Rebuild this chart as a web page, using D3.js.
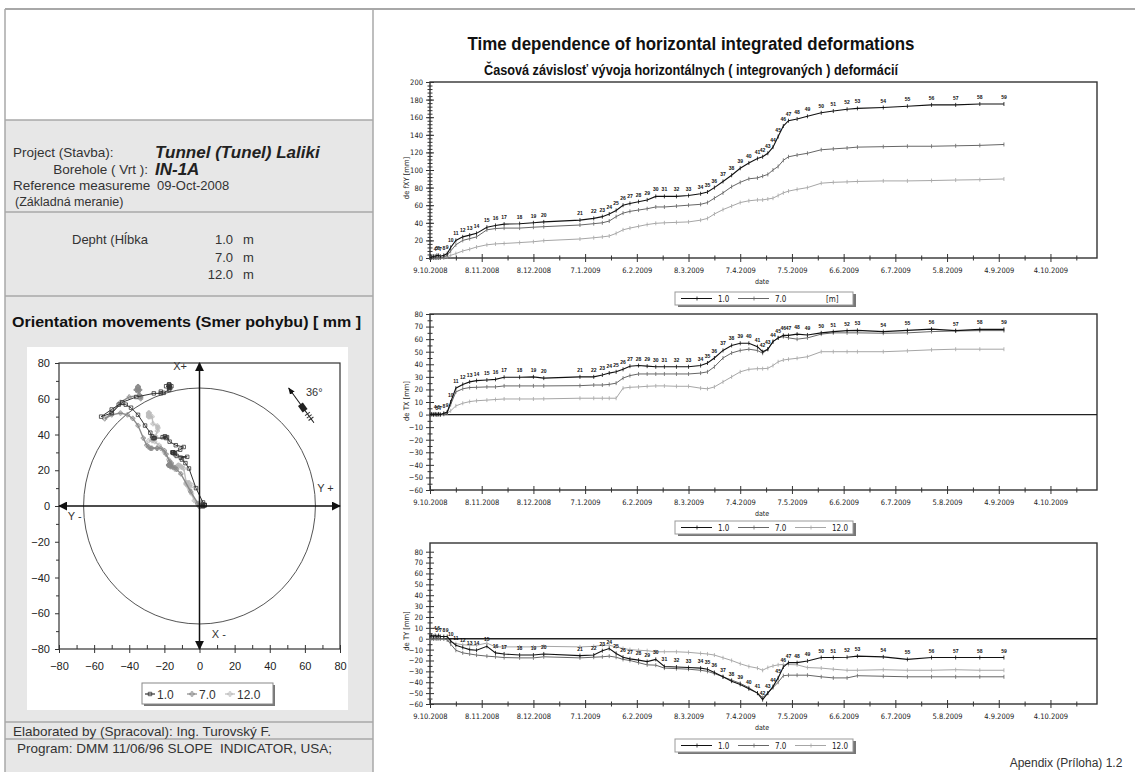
<!DOCTYPE html>
<html>
<head>
<meta charset="utf-8">
<script src="https://cdnjs.cloudflare.com/ajax/libs/d3/7.8.5/d3.min.js"></script>
<style>
body { margin: 0; background: #fff; }
svg text { font-family: "Liberation Sans", Arial, sans-serif; white-space: pre; }
.narrow { font-family: "Liberation Sans Narrow", "DejaVu Sans Condensed", "Liberation Sans", sans-serif; }
</style>
</head>
<body>
<script>
////////////////////////////////////////////
// inclinometer IN-1A, tunnel Laliki
// data
////////////////////////////////////////////
var refDate = new Date(2008, 9, 9);   // reference measurement 09-Oct-2008
var depths = ["1.0", "7.0", "12.0"];

// days after the reference measurement
var measDays = [0,1,2,3,4,5,6,8,10,12, 15,19,23,27,33,38,43,52,60,66,
	87,95,100,104,108,112,116,121,126,131, 136,143,150,157,161,165,170,175,180,185,
	190,193,196,199,202,205,208,213,219,227, 234,242,248,263,277,291,305,319,333];
var measNo = d3.range(1, measDays.length + 1);

// integrated deformation de fXY [mm]
var deXY_1 = [0,1,2,2,3,3,2,3,5,12, 20,24,26,28,35,37,38.5,39,40,41,
	43,45,47,50,54,60,62,64,66,70, 70,70,71,73,75,80,87,94,102,108,
	113,115,119,126,138,150,156,158,161,165, 167,169,170,171,172.5,174,174,175,175];
var deXY_7 = [0,0,0,0,0,0,0,1,3,8, 15,20,22,24,32,33.5,34,34,35,35.6,
	37.5,39,40,42,47,51,53,54.5,56,58, 58,59,60,61,63,68,74,81,86,90,
	91,93,95,100,104,111,115,117,119,123, 124,125,126,126.5,127,127,127.5,128,129];
var deXY_12 = [0,0,0,0,0,0,0,0,1.5,3, 5,8,10,12.5,15,16,16.5,17.5,18.5,19.7,
	21.6,23,24,25,28,32,34,36,38,39.4, 40,40.5,41,43,45,50,55,59,63,65,
	66,66,67,68,71,74,76,78,80,85, 86,86.5,87,87.6,87.6,88,88.6,89,89.8];

// deformation in X direction de TX [mm]
var deX_1 = [0,0.5,0,0.5,0,0.5,0,1,2,10, 21,24,26,27,27.5,28,29.7,29.7,30,29,
	30,30,31.5,33,34,36,38.5,39,38.5,38, 38,38,38,39,41,45,51,55,56.7,56.7,
	54,50,52,58,61,63,63,64,63.3,65, 66,66.8,67,66,67,68,66.8,67.8,67.8];
var deX_7 = [0,0,0,0,0,0,0,0.5,1.5,8, 18,20.5,21.5,21.7,22,22,22.8,22.8,22.8,22.8,
	23,23.5,23.5,24,25,29,31,32.3,32.3,32.3, 32.3,32.3,32.3,33,34,38,45,49,51,52,
	51,48.8,52,58,61,62,61,60,61,64, 65,65,65,64.7,65,66,66.5,66.8,66.8];
var deX_12 = [0,0,0,0,0,0,0,0,1,3, 6.9,9,10.3,11,11.5,12,12.4,12.4,12.4,12.5,
	13,13,13,13,13,21,21.7,22,22.5,22.8, 22.8,22.5,22.5,21,20.5,22,26,30,34,36,
	36.5,36.5,36.8,39,42,43.4,44,44.8,46,50, 50,50,50,50,50.7,51.5,52,52,52];

// deformation in Y direction de TY [mm]
var deY_1 = [2,3,2,3,2,3,2,2,2,-2, -6,-8,-10,-10.6,-7,-13,-14,-15,-15,-14,
	-15.5,-15,-11,-9,-13.5,-17,-18.5,-19.7,-21,-19, -25.5,-26,-26.5,-27,-28,-31,-35,-39,-42,-46,
	-50,-56,-50,-44,-36,-26,-22,-22,-20.4,-17.3, -17.3,-17,-16,-16.7,-19,-17.3,-17.3,-17.3,-17.3];
var deY_7 = [0,0.5,0,0.5,0,0.5,0,0,-1,-5, -10.6,-13,-14,-15,-16,-16.6,-17.3,-17.6,-17.6,-16.6,
	-17.6,-17,-16.6,-16,-17,-19,-20,-22,-24,-24.3, -27,-27.5,-28,-29,-30,-32,-35,-38,-41,-45,
	-50,-54,-50,-45,-40,-34,-33.5,-33.5,-33.5,-35, -36,-36,-34,-34.5,-35,-35,-35,-35,-35];
var deY_12 = [0,0,0,0,0,0,0,0,-1,-3, -4.5,-5.5,-6,-6,-4,-7.5,-7.5,-7.5,-7.5,-7,
	-7.5,-7,-6,-6,-7.5,-9,-10,-10.6,-11,-12, -12,-12,-12.5,-13.5,-14,-15,-17.5,-20,-23,-25.5,
	-27,-29,-26.5,-25,-24,-23.7,-23.7,-24,-26.5,-27, -28,-29,-29,-28.5,-29,-29,-28.5,-29,-29];

var dayTicks = d3.range(0, 361, 30);
var dayMinor = d3.range(15, 376, 30);
var circleRadius = 66;   // reference circle in the orientation plot [mm]
var azimuth = 36;        // orientation of the borehole A axis [deg]

var lineColor = ["#111", "#666", "#a6a6a6"];

var svg = d3.select("body")
	.append("svg")
	.attr("width", 1135)
	.attr("height", 772);

function dateOf(d) { return d3.timeDay.offset(refDate, d); }

///////////////////////////
// left information panel
function drawLeftPanel()
{
	var p = svg.append("g");
	p.append("rect").attr("x", 5).attr("y", 120).attr("width", 368).attr("height", 652).attr("fill", "#e7e7e7");
	p.append("line").attr("x1", 5).attr("x2", 1135).attr("y1", 9).attr("y2", 9)
		.attr("stroke", "#a8a8a8").attr("stroke-width", 2);
	[5, 373].forEach(function(xx) {
		p.append("line").attr("x1", xx).attr("x2", xx).attr("y1", 9).attr("y2", 772)
			.attr("stroke", "#a8a8a8").attr("stroke-width", 1.5);
	});
	[120, 212, 296, 722, 739].forEach(function(yy) {
		p.append("line").attr("x1", 5).attr("x2", 373).attr("y1", yy).attr("y2", yy)
			.attr("stroke", "#a8a8a8").attr("stroke-width", 1.5);
	});

	function txt(x, y, s, size, weight, style, anchor) {
		return p.append("text").attr("x", x).attr("y", y)
			.attr("font-size", size)
			.attr("font-weight", weight || "normal")
			.attr("font-style", style || "normal")
			.attr("text-anchor", anchor || "start")
			.attr("fill", "#333")
			.text(s);
	}
	txt(13, 157, "Project (Stavba):", 13.5);
	txt(155, 158, "Tunnel (Tunel) Laliki", 17, "bold", "italic").attr("fill", "#222");
	txt(148, 174, "Borehole ( Vrt ):", 13.5, null, null, "end");
	txt(155, 175, "IN-1A", 17, "bold", "italic").attr("fill", "#222");
	txt(13, 190, "Reference measureme", 13.5);
	txt(157, 190, "09-Oct-2008", 13);
	txt(15, 206, "(Základná meranie)", 12.5);
	txt(72, 244, "Depht (Hĺbka", 13);
	depths.forEach(function(d, i) {
		txt(233, 244 + i * 17.5, d, 13, null, null, "end");
		txt(243, 244 + i * 17.5, "m", 13);
	});
	txt(12, 327, "Orientation movements (Smer pohybu) [ mm ]", 14, "bold")
		.attr("fill", "#111").attr("textLength", 349).attr("lengthAdjust", "spacingAndGlyphs");
	txt(13, 736, "Elaborated by (Spracoval): Ing. Turovský F.", 13.5);
	txt(17, 753, "Program: DMM 11/06/96 SLOPE  INDICATOR, USA;", 13.5);
}

///////////////////////////
// orientation plot (deTY horizontal, deTX vertical)
function drawPolar()
{
	var g = svg.append("g");
	g.append("rect").attr("x", 27).attr("y", 347).attr("width", 321).attr("height", 363).attr("fill", "#fff");

	var x = d3.scaleLinear().domain([-80, 80]).range([59, 340]);
	var y = d3.scaleLinear().domain([-80, 80]).range([649, 363]);

	g.append("rect").attr("x", x(-80)).attr("y", y(80))
		.attr("width", x(80) - x(-80)).attr("height", y(-80) - y(80))
		.attr("fill", "none").attr("stroke", "#333").attr("stroke-width", 1.2);

	// axes
	g.append("g").attr("transform", "translate(" + x(-80) + ",0)")
		.call(d3.axisLeft(y).tickValues(d3.range(-80, 81, 20)).tickSize(4).tickPadding(5));
	g.append("g").attr("transform", "translate(" + x(-80) + ",0)")
		.call(d3.axisLeft(y).tickValues(d3.range(-70, 80, 20)).tickSize(3).tickFormat(""));
	g.append("g").attr("transform", "translate(0," + y(-80) + ")")
		.call(d3.axisBottom(x).tickValues(d3.range(-80, 81, 20)).tickSize(4).tickPadding(9));
	g.append("g").attr("transform", "translate(0," + y(-80) + ")")
		.call(d3.axisTop(x).tickValues(d3.range(-80, 81, 10)).tickSize(4).tickFormat(""));
	g.selectAll(".domain").remove();
	g.selectAll(".tick line").attr("stroke", "#333");
	g.selectAll(".tick text").attr("font-size", 11).attr("fill", "#222").attr("font-family", "Liberation Sans, Arial, sans-serif");

	// reference circle
	g.append("ellipse").attr("cx", x(0)).attr("cy", y(0))
		.attr("rx", x(circleRadius) - x(0)).attr("ry", y(0) - y(circleRadius))
		.attr("fill", "none").attr("stroke", "#555").attr("stroke-width", 1);

	// paths of the three depths
	var sets = [[deY_1, deX_1], [deY_7, deX_7], [deY_12, deX_12]];
	var polarColor = ["#333", "#8a8a8a", "#bdbdbd"];
	var sym = [d3.symbolSquare, d3.symbolCross, d3.symbolCross];
	var line = d3.line().x(function(d) { return x(d[0]); }).y(function(d) { return y(d[1]); });
	for (var s = 2; s >= 0; s--) {
		var pts = sets[s][0].map(function(v, k) { return [v, sets[s][1][k]]; });
		g.append("path").attr("d", line(pts)).attr("fill", "none")
			.attr("stroke", polarColor[s]).attr("stroke-width", s == 0 ? 1 : 1.4);
		g.selectAll(null).data(pts).enter().append("path")
			.attr("transform", function(d) { return "translate(" + x(d[0]) + "," + y(d[1]) + ")"; })
			.attr("d", d3.symbol().type(sym[s]).size(s == 0 ? 12 : 10))
			.attr("fill", "none")
			.attr("stroke", polarColor[s]).attr("stroke-width", 0.8);
	}

	// arrow axes
	var defs = svg.append("defs");
	defs.append("marker").attr("id", "arr").attr("viewBox", "0 0 10 10")
		.attr("refX", 9).attr("refY", 5).attr("markerWidth", 9).attr("markerHeight", 9)
		.attr("markerUnits", "userSpaceOnUse").attr("orient", "auto-start-reverse")
		.append("path").attr("d", "M0,0 L10,5 L0,10 z").attr("fill", "#111");
	defs.append("marker").attr("id", "arrs").attr("viewBox", "0 0 10 10")
		.attr("refX", 9).attr("refY", 5).attr("markerWidth", 7).attr("markerHeight", 7)
		.attr("markerUnits", "userSpaceOnUse").attr("orient", "auto")
		.append("path").attr("d", "M0,1 L10,5 L0,9 z").attr("fill", "#111");
	g.append("line").attr("x1", x(-80)).attr("x2", x(80)).attr("y1", y(0)).attr("y2", y(0))
		.attr("stroke", "#111").attr("stroke-width", 1.5)
		.attr("marker-start", "url(#arr)").attr("marker-end", "url(#arr)");
	g.append("line").attr("x1", x(0)).attr("x2", x(0)).attr("y1", y(-80)).attr("y2", y(80))
		.attr("stroke", "#111").attr("stroke-width", 1.5)
		.attr("marker-start", "url(#arr)").attr("marker-end", "url(#arr)");

	var lab = [["X+", x(-15), y(76)], ["Y +", x(67), y(8)], ["Y -", x(-75), y(-8)], ["X -", x(7), y(-74)]];
	lab.forEach(function(l) {
		g.append("text").attr("x", l[1]).attr("y", l[2]).attr("font-size", 11).attr("fill", "#333").text(l[0]);
	});

	// azimuth sign
	var az = g.append("g").attr("transform", "translate(301,405) rotate(" + (-azimuth) + ")");
	az.append("line").attr("x1", 0).attr("x2", 0).attr("y1", 22).attr("y2", -21)
		.attr("stroke", "#111").attr("stroke-width", 1).attr("marker-end", "url(#arrs)");
	az.append("rect").attr("x", -3).attr("y", -1).attr("width", 6).attr("height", 8).attr("fill", "#222");
	[11, 14, 17].forEach(function(t) {
		az.append("line").attr("x1", -3).attr("x2", 3).attr("y1", t).attr("y2", t).attr("stroke", "#333");
	});
	g.append("text").attr("x", 306).attr("y", 396).attr("font-size", 11).attr("fill", "#333").text("36°");

	// legend
	var lg = g.append("g");
	lg.append("rect").attr("x", 144).attr("y", 685).attr("width", 131).attr("height", 21).attr("fill", "#777");
	lg.append("rect").attr("x", 142).attr("y", 683).attr("width", 131).attr("height", 21)
		.attr("fill", "#fff").attr("stroke", "#888");
	var lx = [145, 187, 225];
	depths.forEach(function(d, i) {
		lg.append("line").attr("x1", lx[i]).attr("x2", lx[i] + 10).attr("y1", 694).attr("y2", 694)
			.attr("stroke", polarColor[i]).attr("stroke-width", 1.2);
		lg.append("path").attr("transform", "translate(" + (lx[i] + 5) + ",694)")
			.attr("d", d3.symbol().type(sym[i]).size(12))
			.attr("fill", "none").attr("stroke", polarColor[i]).attr("stroke-width", 0.8);
		lg.append("text").attr("x", lx[i] + 12).attr("y", 699).attr("font-size", 12).attr("fill", "#333").text(d);
	});
}

///////////////////////////
// time dependence charts
function drawTimeChart(cfg)
{
	var left = 430, right = 1097;
	var x = d3.scaleTime().domain([refDate, dateOf(387)]).range([left, right]);
	var y = d3.scaleLinear().domain(cfg.domain).range([cfg.bottom, cfg.top]);
	var g = svg.append("g");

	g.append("rect").attr("x", left).attr("y", cfg.top).attr("width", right - left).attr("height", cfg.bottom - cfg.top)
		.attr("fill", "none").attr("stroke", "#333").attr("stroke-width", 1.4);
	if (cfg.zero) {
		g.append("line").attr("x1", left).attr("x2", right).attr("y1", y(0)).attr("y2", y(0))
			.attr("stroke", "#222").attr("stroke-width", 1.3);
	}

	// x axis (ticks crossing the axis line)
	var fmt = d3.timeFormat("%-d.%-m.%Y");
	g.append("g").attr("transform", "translate(0," + cfg.bottom + ")")
		.call(d3.axisBottom(x).tickValues(dayTicks.map(dateOf)).tickSize(4).tickPadding(6).tickFormat(fmt));
	g.append("g").attr("transform", "translate(0," + cfg.bottom + ")")
		.call(d3.axisTop(x).tickValues(dayTicks.map(dateOf)).tickSize(4).tickFormat(""));
	g.append("g").attr("transform", "translate(0," + cfg.bottom + ")")
		.call(d3.axisBottom(x).tickValues(dayMinor.map(dateOf)).tickSize(2.5).tickFormat(""));
	g.append("g").attr("transform", "translate(0," + cfg.bottom + ")")
		.call(d3.axisTop(x).tickValues(dayMinor.map(dateOf)).tickSize(2.5).tickFormat(""));

	// y axis
	g.append("g").attr("transform", "translate(" + left + ",0)")
		.call(d3.axisLeft(y).tickValues(cfg.ticks).tickSize(4).tickPadding(3));
	g.append("g").attr("transform", "translate(" + left + ",0)")
		.call(d3.axisRight(y).tickValues(cfg.ticks).tickSize(4).tickFormat(""));
	g.append("g").attr("transform", "translate(" + left + ",0)")
		.call(d3.axisLeft(y).tickValues(cfg.minor).tickSize(2.5).tickFormat(""));
	g.append("g").attr("transform", "translate(" + left + ",0)")
		.call(d3.axisRight(y).tickValues(cfg.minor).tickSize(2.5).tickFormat(""));

	g.selectAll(".domain").remove();
	g.selectAll(".tick line").attr("stroke", "#333");
	g.selectAll(".tick text").attr("font-size", 7.5).attr("fill", "#222").attr("class", "narrow")
		.attr("font-family", null);

	g.append("text").attr("class", "narrow").attr("font-size", 7.5).attr("fill", "#222")
		.attr("text-anchor", "middle")
		.attr("transform", "translate(409," + cfg.labelY + ") rotate(-90)")
		.text(cfg.label);
	g.append("text").attr("class", "narrow").attr("font-size", 7).attr("fill", "#222")
		.attr("x", 762).attr("y", cfg.bottom + 26).attr("text-anchor", "middle").text("date");

	// series lines
	var line = d3.line()
		.x(function(d) { return x(d.date); })
		.y(function(d) { return y(d.v); });
	for (var s = cfg.series.length - 1; s >= 0; s--) {
		var pts = cfg.series[s].map(function(v, k) { return {date: dateOf(measDays[k]), v: v, no: measNo[k]}; });
		g.append("path").attr("d", line(pts)).attr("fill", "none")
			.attr("stroke", lineColor[s]).attr("stroke-width", s == 0 ? 1.1 : 1);
		g.selectAll(null).data(pts).enter().append("line")
			.attr("x1", function(d) { return x(d.date); }).attr("x2", function(d) { return x(d.date); })
			.attr("y1", function(d) { return y(d.v) - 2; }).attr("y2", function(d) { return y(d.v) + 2; })
			.attr("stroke", lineColor[s]).attr("stroke-width", 0.8);
		if (s == 0) {
			// measurement numbers
			g.selectAll(null).data(pts.slice(3)).enter().append("text")
				.attr("x", function(d) { return x(d.date); })
				.attr("y", function(d) { return y(d.v) - 5; })
				.attr("text-anchor", "middle")
				.attr("font-family", "Liberation Serif, serif")
				.attr("font-weight", "bold")
				.attr("font-size", 5)
				.attr("fill", "#111")
				.text(function(d) { return d.no; });
		}
	}

	// legend
	var lg = g.append("g");
	var ly = cfg.legendY;
	lg.append("rect").attr("x", 678).attr("y", ly + 2).attr("width", 178).attr("height", 13).attr("fill", "#777");
	lg.append("rect").attr("x", 675).attr("y", ly).attr("width", 178).attr("height", 13)
		.attr("fill", "#fff").attr("stroke", "#999");
	var lx = [681, 738, 795];
	cfg.legend.forEach(function(d, i) {
		lg.append("line").attr("x1", lx[i]).attr("x2", lx[i] + 31).attr("y1", ly + 6.5).attr("y2", ly + 6.5)
			.attr("stroke", lineColor[i]).attr("stroke-width", 1);
		lg.append("line").attr("x1", lx[i] + 16).attr("x2", lx[i] + 16).attr("y1", ly + 4.5).attr("y2", ly + 8.5)
			.attr("stroke", lineColor[i]).attr("stroke-width", 0.8);
		lg.append("text").attr("class", "narrow").attr("x", lx[i] + 37).attr("y", ly + 9.5)
			.attr("font-size", 8).attr("fill", "#222").text(d);
	});
	if (cfg.unit) {
		lg.append("text").attr("class", "narrow").attr("x", 826).attr("y", ly + 9.5)
			.attr("font-size", 8).attr("fill", "#222").text(cfg.unit);
	}
}

///////////////////////////
// titles
svg.append("text").attr("x", 691).attr("y", 50).attr("text-anchor", "middle")
	.attr("font-size", 18).attr("font-weight", "bold").attr("fill", "#111")
	.attr("textLength", 447).attr("lengthAdjust", "spacingAndGlyphs")
	.text("Time dependence of horizontal integrated deformations");
svg.append("text").attr("x", 691).attr("y", 75).attr("text-anchor", "middle")
	.attr("font-size", 14.5).attr("font-weight", "bold").attr("fill", "#111")
	.attr("textLength", 414).attr("lengthAdjust", "spacingAndGlyphs")
	.text("Časová závislosť vývoja horizontálnych ( integrovaných ) deformácií");

drawLeftPanel();
drawPolar();

drawTimeChart({top: 82, bottom: 258, domain: [0, 200], ticks: d3.range(0, 201, 20), minor: d3.range(0, 201, 4),
	label: "de fXY [mm]", labelY: 178, series: [deXY_1, deXY_7, deXY_12], zero: false,
	legendY: 292, legend: ["1.0", "7.0"], unit: "[m]"});
drawTimeChart({top: 314, bottom: 490, domain: [-60, 80], ticks: d3.range(-60, 81, 10), minor: d3.range(-55, 80, 10),
	label: "de TX [mm]", labelY: 401, series: [deX_1, deX_7, deX_12], zero: true,
	legendY: 521, legend: depths});
drawTimeChart({top: 543, bottom: 704, domain: [-60, 88], ticks: d3.range(-60, 81, 10), minor: d3.range(-55, 80, 10),
	label: "de TY [mm]", labelY: 631, series: [deY_1, deY_7, deY_12], zero: true,
	legendY: 739, legend: depths});

svg.append("text").attr("x", 1066).attr("y", 767).attr("text-anchor", "middle")
	.attr("font-size", 12).attr("fill", "#333").text("Apendix (Príloha) 1.2");
</script>
</body>
</html>
